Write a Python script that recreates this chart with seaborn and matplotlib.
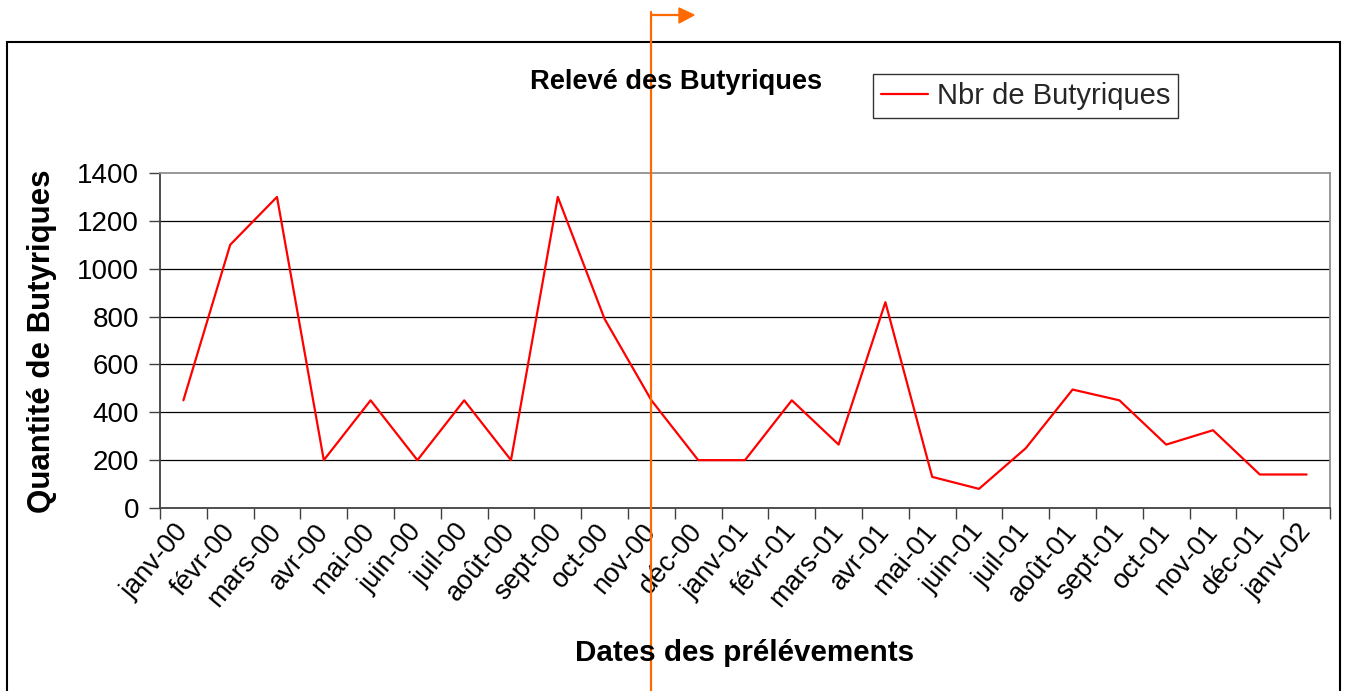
import numpy as np
import pandas as pd
import matplotlib
matplotlib.use("Agg")
import matplotlib.pyplot as plt
import matplotlib.patches as mpatches
from matplotlib.lines import Line2D
import seaborn as sns

months = ["janv-00", "févr-00", "mars-00", "avr-00", "mai-00", "juin-00", "juil-00",
          "août-00", "sept-00", "oct-00", "nov-00", "déc-00", "janv-01", "févr-01",
          "mars-01", "avr-01", "mai-01", "juin-01", "juil-01", "août-01", "sept-01",
          "oct-01", "nov-01", "déc-01", "janv-02"]
butyriques = [450, 1100, 1300, 200, 450, 200, 450, 200, 1300, 790, 450, 200, 200, 450,
              265, 860, 130, 80, 250, 495, 450, 265, 325, 140, 140]
y_ticks = [0, 200, 400, 600, 800, 1000, 1200, 1400]

title = "Relevé des Butyriques"
series_name = "Nbr de Butyriques"
x_title = "Dates des prélévements"
y_title = "Quantité de Butyriques"

sns.set_theme(style="white")
plt.rcParams["font.family"] = ["Liberation Sans", "DejaVu Sans"]

W, H = 1349, 691
fig = plt.figure(figsize=(W / 100, H / 100), dpi=100)
fig.patch.set_facecolor("white")

left, right, top, bottom = 160, 1330, 173, 508
ax = fig.add_axes([left / W, 1 - bottom / H, (right - left) / W, (bottom - top) / H])

df = pd.DataFrame({"pos": np.arange(len(months)), "val": butyriques, "serie": series_name})
sns.lineplot(data=df, x="pos", y="val", hue="serie", palette=["#FF0000"], lw=1.6,
             ax=ax, legend=False)

n = len(months)
ax.set_xlim(-0.5, n - 0.5)
ax.set_ylim(0, 1400)
ax.set_yticks(y_ticks)
ax.set_yticklabels([str(v) for v in y_ticks], fontsize=20, color="black")
ax.set_xticks(np.arange(-0.5, n, 1.0))
ax.set_xticklabels([])
ax.set_xticks(np.arange(n), minor=True)
ax.set_xticklabels(months, minor=True, rotation=50, ha="right", va="center",
                   rotation_mode="anchor", fontsize=19.5, color="black")
ax.tick_params(axis="x", which="minor", length=0, pad=14)
ax.tick_params(axis="x", which="major", length=8, width=1, color="#404040", direction="out", bottom=True)
ax.tick_params(axis="y", which="major", length=8, width=1, color="#404040", direction="out", left=True, pad=7)
ax.set_xlabel("")
ax.set_ylabel("")

for yv in y_ticks[1:-1]:
    ax.axhline(yv, color="black", lw=0.9, zorder=0)

for side in ["left", "bottom"]:
    ax.spines[side].set_color("#404040")
    ax.spines[side].set_linewidth(1.3)
for side in ["top", "right"]:
    ax.spines[side].set_color("#909090")
    ax.spines[side].set_linewidth(1.3)
    ax.spines[side].set_visible(True)

# outer chart border
fig.add_artist(mpatches.Rectangle((7 / W, -0.05), (1340 - 7) / W, 1.05 - 42 / H,
                                  transform=fig.transFigure, fill=False,
                                  edgecolor="black", lw=1.5))

fig.text(676 / W, 1 - 82 / H, title, ha="center", va="center", fontsize=19.6,
         fontweight="bold", color="black")
fig.text(745 / W, 1 - 653 / H, x_title, ha="center", va="center", fontsize=21.3,
         fontweight="bold", color="black")
fig.text(42 / W, 1 - 341 / H, y_title, ha="center", va="center", rotation=90,
         fontsize=22.5, fontweight="bold", color="black")

handle = Line2D([], [], color="#FF0000", lw=1.6)
leg = ax.legend([handle], [series_name], loc="upper left",
                bbox_to_anchor=(873 / W, 1 - 74 / H), bbox_transform=fig.transFigure,
                prop={"size": 21}, frameon=True, fancybox=False,
                borderaxespad=0, borderpad=0.28, handlelength=1.6, handletextpad=0.3)
leg.get_frame().set_edgecolor("black")
leg.get_frame().set_linewidth(1.0)

# orange marker line with arrow
orange = "#FF6A00"
fig.add_artist(Line2D([651 / W, 651 / W], [0, 1 - 12 / H], transform=fig.transFigure,
                      color=orange, lw=1.6))
fig.add_artist(Line2D([651 / W, 681 / W], [1 - 15 / H, 1 - 15 / H], transform=fig.transFigure,
                      color=orange, lw=1.6))
fig.add_artist(mpatches.Polygon([[679 / W, 1 - 8 / H], [694 / W, 1 - 15 / H], [679 / W, 1 - 23 / H]],
                                 closed=True, transform=fig.transFigure, color=orange))

fig.savefig("out.png", dpi=100)
